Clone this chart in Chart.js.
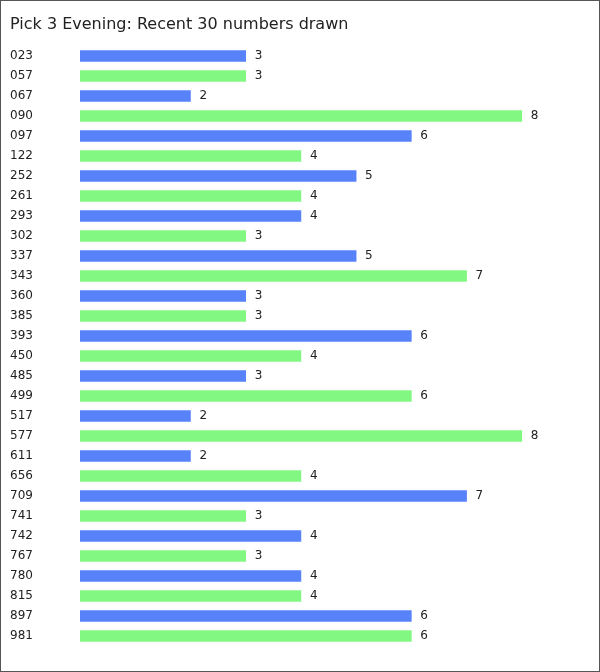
<!DOCTYPE html>
<html>
<head>
<meta charset="utf-8">
<script src="https://cdn.jsdelivr.net/npm/chart.js@4"></script>
<style>
  html, body { margin: 0; padding: 0; background: #fff; }
  #wrap { width: 600px; height: 672px; box-sizing: border-box; border: 1px solid #555; position: relative; }
  #chart { position: absolute; left: 0; top: 0; }
</style>
</head>
<body>
<div id="wrap"><canvas id="chart" width="598" height="670"></canvas></div>
<script>
// --- data ---
const numbers = ["023", "057", "067", "090", "097", "122", "252", "261", "293", "302",
  "337", "343", "360", "385", "393", "450", "485", "499", "517", "577",
  "611", "656", "709", "741", "742", "767", "780", "815", "897", "981"];
const timesDrawn = [3, 3, 2, 8, 6, 4, 5, 4, 4, 3,
  5, 7, 3, 3, 6, 4, 3, 6, 2, 8,
  2, 4, 7, 3, 4, 3, 4, 4, 6, 6];
const barColors = ["#5882fa", "#82f882"];

const FONT = "'DejaVu Sans', Verdana, sans-serif";

// value labels at the end of each bar
const valueLabels = {
  id: "valueLabels",
  afterDatasetsDraw(chart) {
    const { ctx } = chart;
    const meta = chart.getDatasetMeta(0);
    ctx.save();
    ctx.font = "12px " + FONT;
    ctx.fillStyle = "#222";
    ctx.textAlign = "left";
    ctx.textBaseline = "middle";
    meta.data.forEach((bar, i) => {
      ctx.fillText(String(timesDrawn[i]), bar.x + 9, bar.y);
    });
    ctx.restore();
  }
};

new Chart(document.getElementById("chart"), {
  type: "bar",
  data: {
    labels: numbers,
    datasets: [{
      data: timesDrawn,
      backgroundColor: numbers.map((_, i) => barColors[i % 2]),
      borderWidth: 0,
      barThickness: 11,
    }],
  },
  options: {
    indexAxis: "y",
    responsive: false,
    animation: false,
    devicePixelRatio: 1,
    layout: { padding: { left: 9, right: 22, top: 0, bottom: 25 } },
    scales: {
      x: { display: false, min: 0, max: 9 },
      y: {
        grid: { display: false },
        border: { display: false },
        ticks: {
          crossAlign: "far",
          autoSkip: false,
          color: "#222",
          font: { family: FONT, size: 12 },
        },
        afterFit(scale) { scale.width = 70; },
      },
    },
    plugins: {
      legend: { display: false },
      tooltip: { enabled: false },
      title: {
        display: true,
        text: "Pick 3 Evening: Recent 30 numbers drawn",
        align: "start",
        color: "#222",
        font: { family: FONT, size: 16, weight: "normal", lineHeight: 1.2 },
        padding: { top: 14, bottom: 11.8 },
      },
    },
  },
  plugins: [valueLabels],
});
</script>
</body>
</html>
